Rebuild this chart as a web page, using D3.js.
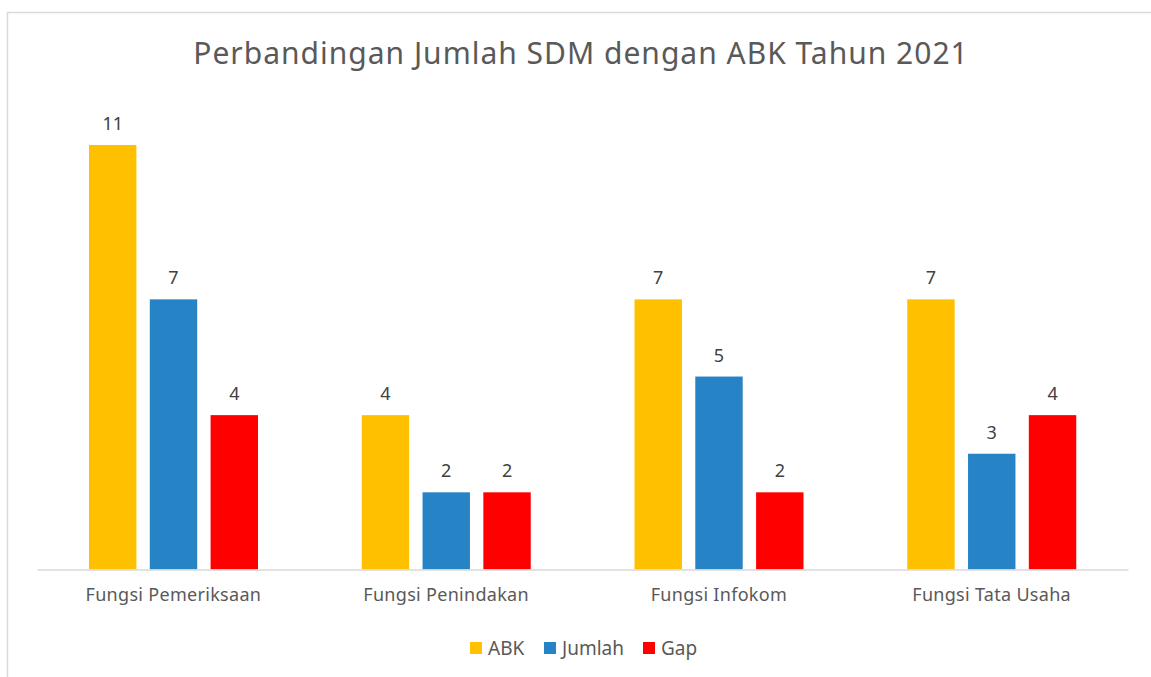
<!DOCTYPE html>
<html><head><meta charset="utf-8">
<script src="https://cdn.jsdelivr.net/npm/d3@7/dist/d3.min.js"></script>
<style>body{margin:0;background:#fff;}svg{display:block;}</style>
</head><body>
<svg id="c" width="1151" height="677"></svg>
<script>
const categories = ["Fungsi Pemeriksaan","Fungsi Penindakan","Fungsi Infokom","Fungsi Tata Usaha"];
const seriesNames = ["ABK","Jumlah","Gap"];
const abk = [11,4,7,7];
const jumlah = [7,2,5,3];
const gap = [4,2,2,4];
const colors = ["#FFC000","#2683C6","#FF0000"];
const title = "Perbandingan Jumlah SDM dengan ABK Tahun 2021";

const svg = d3.select("#c");
const font = "'Century Gothic','URW Gothic','Noto Sans',sans-serif";
const txt = "#595959";

svg.append("rect").attr("x",7.5).attr("y",12.5).attr("width",1200).attr("height",700)
  .attr("fill","#fff").attr("stroke","#d9d9d9").attr("stroke-width",1.5);

svg.append("text").attr("x",581).attr("y",64).attr("text-anchor","middle")
  .attr("font-family",font).attr("font-size",30).attr("letter-spacing",1)
  .attr("fill",txt).text(title);

const x0 = d3.scaleBand().domain(categories).range([37,1128]).paddingInner(0).paddingOuter(0);
const x1 = d3.scaleBand().domain(seriesNames).range([52,221]).paddingInner(0.22).paddingOuter(0);
const y = d3.scaleLinear().domain([0,11]).range([569.5,145]);

const data = [abk,jumlah,gap];
const g = svg.append("g");
categories.forEach((c,i)=>{
  const gg = g.append("g").attr("transform",`translate(${x0(c)},0)`);
  seriesNames.forEach((s,j)=>{
    const v = data[j][i];
    gg.append("rect").attr("x",x1(s)).attr("y",y(v)).attr("width",x1.bandwidth())
      .attr("height",y(0)-y(v)).attr("fill",colors[j]);
    gg.append("text").attr("x",x1(s)+x1.bandwidth()/2).attr("y",y(v)-15)
      .attr("text-anchor","middle").attr("font-family",font).attr("font-size",18)
      .attr("fill","#404040").text(v);
  });
});

const xa = svg.append("g").attr("transform",`translate(0,${y(0)})`)
  .call(d3.axisBottom(x0).tickSize(0).tickPadding(19));
xa.select(".domain").attr("stroke","#d9d9d9").attr("stroke-width",1.5);
xa.selectAll("text").attr("font-family",font).attr("font-size",18)
  .attr("letter-spacing",0.3).attr("fill",txt);

const legendX = [470,544,643];
const lg = svg.append("g");
seriesNames.forEach((s,j)=>{
  lg.append("rect").attr("x",legendX[j]).attr("y",642).attr("width",12).attr("height",12).attr("fill",colors[j]);
  lg.append("text").attr("x",legendX[j]+18).attr("y",655).attr("font-family",font)
    .attr("font-size",19).attr("fill",txt).text(s);
});
</script>
</body></html>
